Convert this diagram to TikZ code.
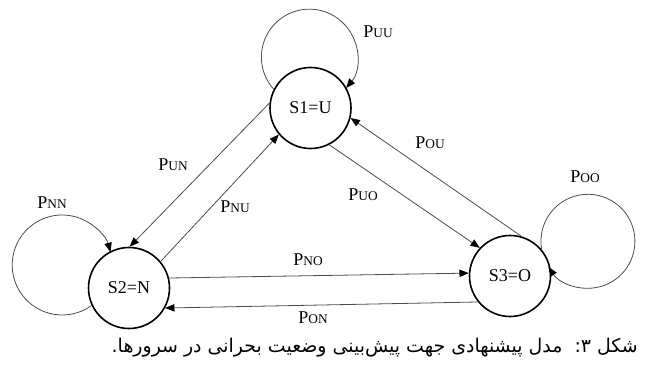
\documentclass[tikz,border=0pt]{standalone}
\usepackage{fontspec}
\setmainfont{Liberation Serif}
\newfontfamily\persianfont[Script=Arabic]{DejaVu Sans}
\TeXXeTstate=1
\usetikzlibrary{arrows.meta}

\newcommand{\prob}[1]{P{\fontsize{10}{12}\selectfont #1}}

\begin{document}
\begin{tikzpicture}[x=0.75pt, y=0.75pt,
    >={Triangle[length=7pt,width=5.5pt,color=black]},
    state/.style={draw, circle, line width=1.2pt, minimum size=60.75pt, inner sep=0pt, font=\fontsize{13.5}{16}\selectfont},
    trans/.style={->, draw=black!70, line width=0.6pt},
    lbl/.style={font=\fontsize{13.5}{16}\selectfont}]

    \useasboundingbox (0,0) rectangle (646,365);

    % Estados
    \node[state] (S1) at (310.5,257) {S1=U};
    \node[state] (S2) at (129,77) {S2=N};
    \node[state] (S3) at (510,89) {S3=O};

    % Laços
    \draw[trans] (S1.153) arc[start angle=222, end angle=-40, radius=48];
    \draw[trans] (S2.205) arc[start angle=-54, end angle=-345, radius=50];
    \draw[trans] (S3.40) arc[start angle=190, end angle=-147, radius=47];

    % Transições
    \draw[trans] (S1.173) -- (S2.89);
    \draw[trans] (S2.40) -- (S1.220);
    \draw[trans] (S1.-63) -- (S3.137);
    \draw[trans] (S3.74) -- (S1.-14);
    \draw[trans] (S2.14) -- (S3.176);
    \draw[trans] (S3.219) -- (S2.-29);

    % Probabilidades
    \node[lbl] (pUU) at (378,333) {\prob{UU}};
    \node[lbl] (pNN) at (52,162) {\prob{NN}};
    \node[lbl] (pOO) at (585,188) {\prob{OO}};
    \node[lbl] (pUN) at (173,200) {\prob{UN}};
    \node[lbl] (pNU) at (235,158) {\prob{NU}};
    \node[lbl] (pUO) at (363,170) {\prob{UO}};
    \node[lbl] (pOU) at (430,222) {\prob{OU}};
    \node[lbl] (pNO) at (308,105) {\prob{NO}};
    \node[lbl] (pON) at (313,47) {\prob{ON}};

    % Legenda
    \node[anchor=east, inner sep=0pt, font=\persianfont\fontsize{14.2}{17}\selectfont] (cap) at (638,17)
        {\beginR شکل ۳:\ \ مدل پیشنهادی جهت پیش‌بینی وضعیت بحرانی در سرورها.\endR};

\end{tikzpicture}
\end{document}
